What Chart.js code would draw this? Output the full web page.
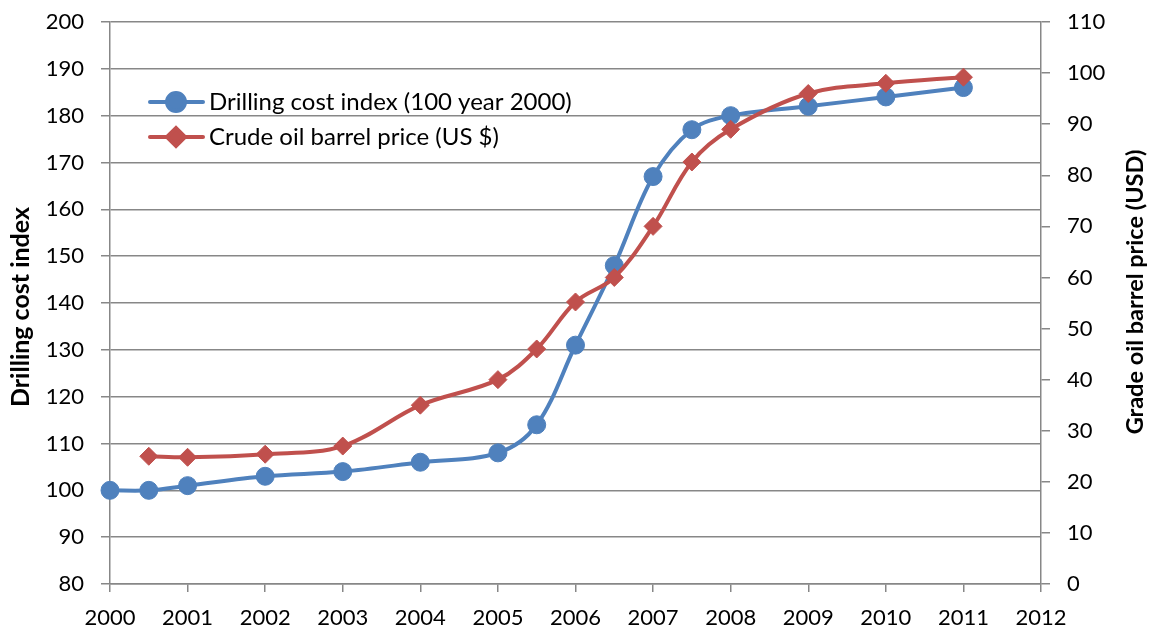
<!DOCTYPE html>
<html>
<head>
<meta charset="utf-8">
<script src="https://cdn.jsdelivr.net/npm/chart.js@4.4.0/dist/chart.umd.min.js"></script>
<style>
  html, body { margin: 0; padding: 0; background: #fff; }
</style>
</head>
<body>
<canvas id="chart" width="1150" height="634"></canvas>
<script>
// data
const costYears = [2000, 2000.5, 2001, 2002, 2003, 2004, 2005, 2005.5, 2006, 2006.5, 2007, 2007.5, 2008, 2009, 2010, 2011];
const costIndex = [100, 100, 101, 103, 104, 106, 108, 114, 131, 148, 167, 177, 180, 182, 184, 186];
const oilYears = [2000.5, 2001, 2002, 2003, 2004, 2005, 2005.5, 2006, 2006.5, 2007, 2007.5, 2008, 2009, 2010, 2011];
const oilPrice = [25, 24.8, 25.4, 27, 35, 40, 46, 55.2, 60, 70, 82.6, 89, 96, 98, 99.2];

const costLabel = 'Drilling cost index (100 year 2000)';
const oilLabel = 'Crude oil barrel price (US $)';
const leftTitle = 'Drilling cost index';
const rightTitle = 'Grade oil barrel price (USD)';

const blue = '#4f81bd';
const red = '#c0504d';
const gridGrey = '#878787';
const fontFamily = 'Lato, "Open Sans", sans-serif';

const canvas = document.getElementById('chart');

// legend inside the plot + axis titles (right one reads bottom to top)
const extras = {
  id: 'extras',
  afterDraw(chart) {
    const ctx = chart.ctx;

    ctx.save();
    ctx.fillStyle = '#000';
    ctx.textAlign = 'center';
    ctx.textBaseline = 'middle';
    [[21, 307, 25, leftTitle], [1135, 292, 23.5, rightTitle]].forEach(([x, y, size, text]) => {
      ctx.save();
      ctx.font = 'bold ' + size + 'px ' + fontFamily;
      ctx.translate(x, y);
      ctx.rotate(-Math.PI / 2);
      ctx.fillText(text, 0, 0);
      ctx.restore();
    });

    const items = [
      { y: 102, color: blue, style: 'circle', text: costLabel },
      { y: 137, color: red, style: 'rectRot', text: oilLabel }
    ];
    ctx.font = '24px ' + fontFamily;
    ctx.textAlign = 'left';
    items.forEach(item => {
      ctx.strokeStyle = item.color;
      ctx.lineWidth = 4;
      ctx.lineCap = 'round';
      ctx.beginPath();
      ctx.moveTo(150, item.y);
      ctx.lineTo(203, item.y);
      ctx.stroke();
      ctx.fillStyle = item.color;
      Chart.helpers.drawPoint(ctx, { pointStyle: item.style, radius: 9, rotation: 0, borderWidth: 1 }, 176, item.y);
      ctx.fillStyle = '#000';
      ctx.fillText(item.text, 209, item.y);
    });
    ctx.restore();
  }
};

// fixed axis sizes so the plot area sits where the original one is
const fitY = w => scale => {
  scale.width = w;
  scale.paddingTop = 0;
  scale.paddingBottom = 0;
};

const chart = new Chart(canvas, {
  type: 'line',
  data: {
    datasets: [
      {
        label: costLabel,
        data: costYears.map((x, i) => ({ x: x, y: costIndex[i] })),
        yAxisID: 'y',
        borderColor: blue,
        backgroundColor: blue,
        borderWidth: 4,
        pointStyle: 'circle',
        pointRadius: 9,
        pointBorderWidth: 1,
        tension: 0.35,
        clip: false,
        order: 1
      },
      {
        label: oilLabel,
        data: oilYears.map((x, i) => ({ x: x, y: oilPrice[i] })),
        yAxisID: 'y2',
        borderColor: red,
        backgroundColor: red,
        borderWidth: 4,
        pointStyle: 'rectRot',
        pointRadius: 9,
        pointBorderWidth: 1,
        tension: 0.35,
        clip: false,
        order: 0
      }
    ]
  },
  options: {
    responsive: false,
    animation: false,
    devicePixelRatio: 1,
    layout: { padding: { top: 22, left: 0, right: 0, bottom: 0 } },
    plugins: {
      legend: { display: false },
      tooltip: { enabled: false }
    },
    scales: {
      x: {
        type: 'linear',
        min: 2000,
        max: 2012,
        afterFit: scale => { scale.height = 50; },
        ticks: {
          stepSize: 1,
          padding: 13,
          color: '#000',
          font: { family: fontFamily, size: 22 },
          callback: v => String(v)
        },
        grid: { drawOnChartArea: false, drawTicks: true, tickLength: 8, color: gridGrey, lineWidth: 1.5 },
        border: { color: gridGrey, width: 1.5 }
      },
      y: {
        position: 'left',
        min: 80,
        max: 200,
        afterFit: fitY(110),
        ticks: {
          stepSize: 10,
          padding: 17,
          color: '#000',
          font: { family: fontFamily, size: 22 }
        },
        grid: { color: gridGrey, lineWidth: 1.5, tickLength: 9 },
        border: { color: gridGrey, width: 1.5 }
      },
      y2: {
        position: 'right',
        min: 0,
        max: 110,
        afterFit: fitY(109),
        ticks: {
          stepSize: 10,
          padding: 17,
          color: '#000',
          font: { family: fontFamily, size: 22 }
        },
        grid: { drawOnChartArea: false, color: gridGrey, lineWidth: 1.5, tickLength: 9 },
        border: { color: gridGrey, width: 1.5 }
      }
    }
  },
  plugins: [extras]
});
</script>
</body>
</html>
